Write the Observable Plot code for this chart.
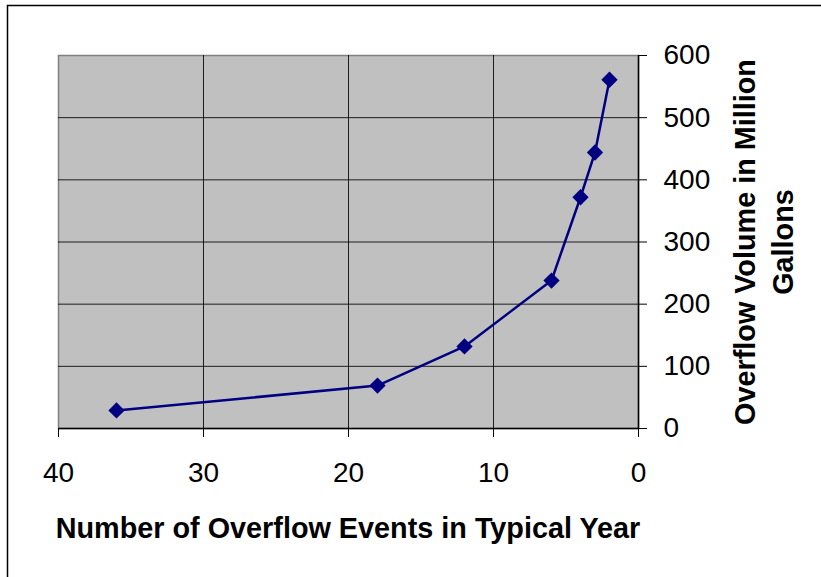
<!DOCTYPE html>
<html><head><meta charset="utf-8">
<script src="https://cdn.jsdelivr.net/npm/d3@7"></script>
<script src="https://cdn.jsdelivr.net/npm/@observablehq/plot@0.6"></script>
<style>body{margin:0;background:#fff;} #chart{position:relative;width:821px;height:577px;overflow:hidden;}</style>
</head><body><div id="chart"></div>
<script>
const events = [36, 18, 12, 6, 4, 3, 2];
const volume = [29, 69, 132, 238, 372, 444, 561];
const xTicks = [40, 30, 20, 10, 0];
const yTicks = [0, 100, 200, 300, 400, 500, 600];
const xGrid = [30, 20, 10];
const yGrid = [100, 200, 300, 400, 500];
const xTitle = "Number of Overflow Events in Typical Year";
const yTitleLines = ["Overflow Volume in Million", "Gallons"];

const data = events.map((e, i) => ({events: e, volume: volume[i]}));
const font = "'Liberation Sans', Arial, sans-serif";

const plot = Plot.plot({
  width: 821, height: 577,
  marginLeft: 58, marginRight: 183, marginTop: 55, marginBottom: 149,
  style: {fontFamily: font, fontSize: "28px", color: "#000", background: "transparent", overflow: "visible"},
  x: {domain: [40, 0]},
  y: {domain: [0, 600]},
  marks: [
    Plot.frame({fill: "#c0c0c0", stroke: "#808080", strokeWidth: 1.5}),
    Plot.gridX(xGrid, {stroke: "#000", strokeOpacity: 0.85, strokeWidth: 1}),
    Plot.gridY(yGrid, {stroke: "#000", strokeOpacity: 0.85, strokeWidth: 1}),
    Plot.ruleY([0], {stroke: "#000", strokeWidth: 1.5}),
    Plot.ruleX([0], {stroke: "#000", strokeWidth: 1.5}),
    Plot.axisX(xTicks, {tickSize: 9, tickPadding: 25, fontSize: 28, label: null, stroke: "#000", strokeOpacity: 1}),
    Plot.axisY(yTicks, {anchor: "right", tickSize: 8, tickPadding: 17, fontSize: 28, label: null, stroke: "#000", strokeOpacity: 1}),
    Plot.line(data, {x: "events", y: "volume", stroke: "#000080", strokeWidth: 2.5}),
    Plot.dot(data, {x: "events", y: "volume", symbol: "square", r: 6.5, rotate: 45, fill: "#000080", stroke: "none"})
  ]
});
document.getElementById("chart").appendChild(plot);

const svg = d3.select(plot);
svg.insert("rect", ":first-child")
  .attr("x", 7.5).attr("y", 5.5).attr("width", 900).attr("height", 700)
  .attr("fill", "none").attr("stroke", "#000").attr("stroke-width", 1.5);

svg.append("text")
  .attr("x", 348).attr("y", 538)
  .attr("text-anchor", "middle")
  .attr("font-family", font).attr("font-weight", "bold").attr("font-size", 28.8)
  .attr("fill", "#000")
  .text(xTitle);

const yBase = [755, 793];
yTitleLines.forEach((t, i) => {
  svg.append("text")
    .attr("transform", `translate(${yBase[i]},242) rotate(-90)`)
    .attr("text-anchor", "middle")
    .attr("font-family", font).attr("font-weight", "bold").attr("font-size", 28.8)
    .attr("fill", "#000")
    .text(t);
});
</script>
</body></html>
